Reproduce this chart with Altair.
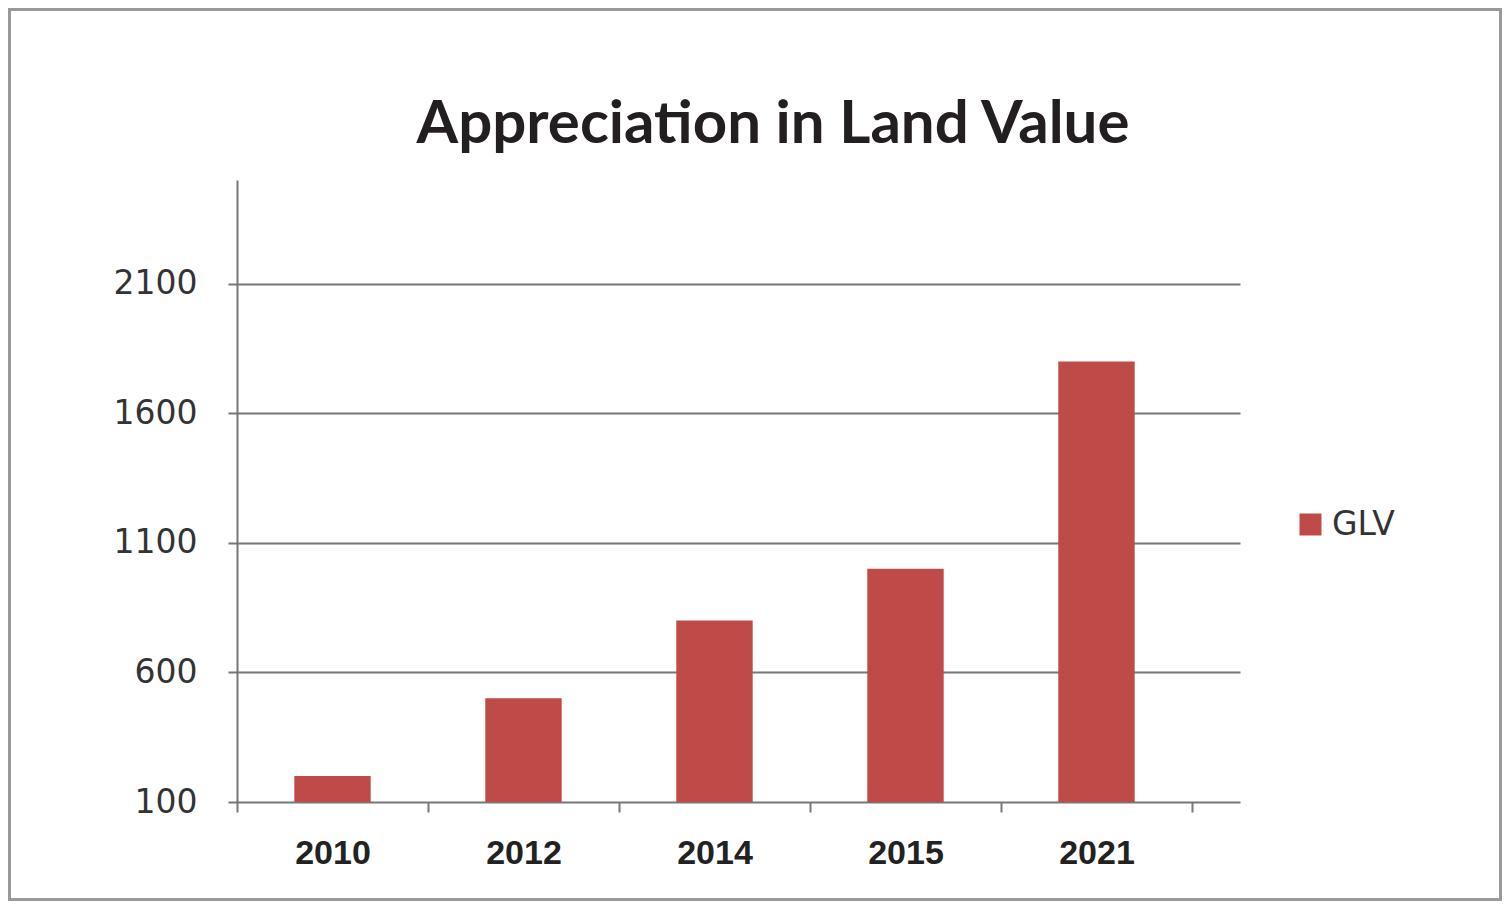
import altair as alt
import pandas as pd

title_text = "Appreciation in Land Value"
years = ["2010", "2012", "2014", "2015", "2021"]
glv = [200, 500, 800, 1000, 1800]
series = ["GLV", "GLV", "GLV", "GLV", "GLV"]
y_ticks = [100, 600, 1100, 1600, 2100]

df = pd.DataFrame({"Year": years, "Value": glv, "Series": series})

bars = alt.Chart(df).mark_bar(width=alt.RelativeBandSize(0.4)).encode(
    x=alt.X(
        "Year:N", sort=years,
        scale=alt.Scale(paddingInner=0, paddingOuter=0.1257, align=0),
        axis=alt.Axis(title=None, labelAngle=0, domain=False, tickBand="extent",
                      tickSize=10, tickColor="#777", tickWidth=2, grid=False,
                      labelFont="Liberation Sans", labelFontWeight="bold",
                      labelFontSize=34, labelColor="#222", labelPadding=24),
    ),
    y=alt.Y(
        "Value:Q",
        scale=alt.Scale(domain=[100, 2500], nice=False, zero=False),
        axis=alt.Axis(title=None, values=y_ticks, format="d", grid=True, gridColor="#777",
                      gridWidth=2, domain=True, domainColor="#777", domainWidth=2,
                      tickSize=9, tickColor="#777", tickWidth=2,
                      labelFont="DejaVu Sans", labelFontSize=33, labelColor="#333",
                      labelPadding=31),
    ),
    y2=alt.datum(100),
    color=alt.Color(
        "Series:N", scale=alt.Scale(range=["#BE4B48"]),
        legend=alt.Legend(title=None, orient="none", legendX=1057, legendY=328,
                          symbolType="square", symbolSize=484, symbolStrokeWidth=0,
                          labelFont="DejaVu Sans", labelFontSize=33, labelColor="#333",
                          labelOffset=5, padding=0),
    ),
)

one = pd.DataFrame({"t": [title_text]})
frame = alt.Chart(one).mark_rect(filled=False, stroke="#999", strokeWidth=3).encode(
    x=alt.value(-227.5), x2=alt.value(1263.5), y=alt.value(-170.5), y2=alt.value(719.5)
)
title = alt.Chart(one).mark_text(font="Lato", fontWeight="bold", fontSize=60,
                                 color="#231f20", align="center", baseline="alphabetic").encode(
    text="t:N", x=alt.value(536), y=alt.value(-37)
)

chart = alt.layer(bars, frame, title).properties(
    width=1003, height=622,
    autosize=alt.AutoSizeParams(type="none"),
    padding={"left": 229, "top": 172, "right": 262, "bottom": 99},
).configure(background="white", view=alt.ViewConfig(stroke=None))

chart.save("out.html", embed_options={"renderer": "svg", "actions": False})
